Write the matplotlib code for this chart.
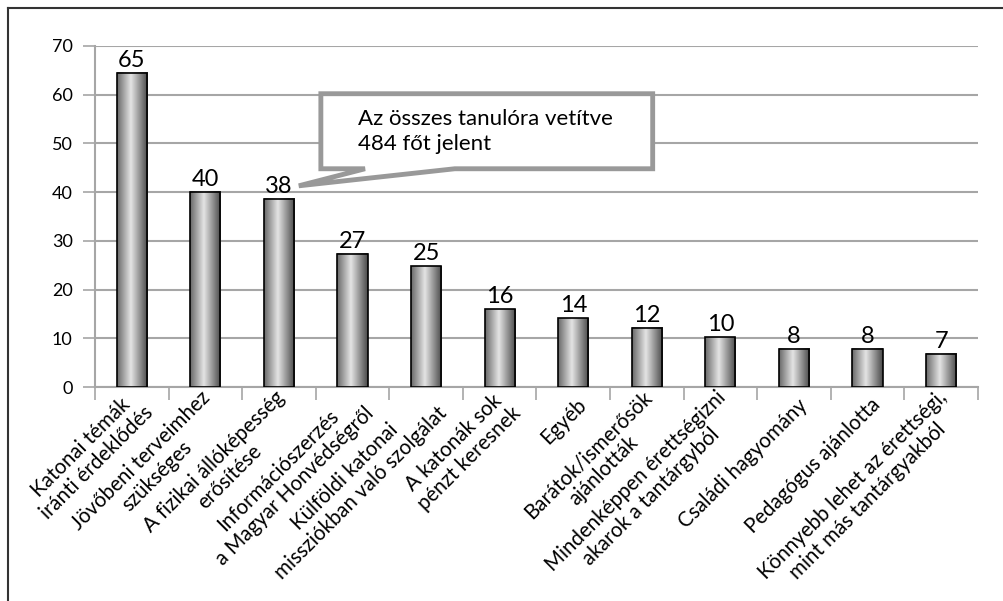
import matplotlib
matplotlib.use("Agg")
import matplotlib.pyplot as plt
import numpy as np
from matplotlib.colors import LinearSegmentedColormap
from matplotlib.patches import Polygon
from matplotlib.lines import Line2D
from matplotlib.transforms import ScaledTranslation

plt.rcParams['font.family'] = ['Lato', 'DejaVu Sans']

categories = [
    "Katonai témák\niránti érdeklődés",
    "Jövőbeni terveimhez\nszükséges",
    "A fizikai állóképesség\nerősítése",
    "Információszerzés\na Magyar Honvédségről",
    "Külföldi katonai\nmissziókban való szolgálat",
    "A katonák sok\npénzt keresnek",
    "Egyéb",
    "Barátok/ismerősök\najánlották",
    "Mindenképpen érettségizni\nakarok a tantárgyból",
    "Családi hagyomány",
    "Pedagógus ajánlotta",
    "Könnyebb lehet az érettségi,\nmint más tantárgyakból",
]
values = [64.5, 40.1, 38.6, 27.3, 24.8, 16.0, 14.1, 12.2, 10.2, 7.9, 7.9, 6.8]
value_labels = ["65", "40", "38", "27", "25", "16", "14", "12", "10", "8", "8", "7"]
yticks = [0, 10, 20, 30, 40, 50, 60, 70]
callout_text = "Az összes tanulóra vetítve\n484 főt jelent"

fig = plt.figure(figsize=(10.04, 6.01), dpi=100)
ax = fig.add_axes([0.0946, 0.356, 0.8794, 0.5675])

x = np.arange(len(categories))
bars = ax.bar(x, values, width=0.41, facecolor='none', edgecolor='black', linewidth=1.2, zorder=4)

cmap = LinearSegmentedColormap.from_list(
    "cyl", [(0.0, "#686868"), (0.45, "#e4e4e4"), (1.0, "#484848")])
grad = np.linspace(0, 1, 256).reshape(1, -1)
for b in bars:
    x0 = b.get_x()
    w = b.get_width()
    h = b.get_height()
    ax.imshow(grad, cmap=cmap, extent=[x0, x0 + w, 0, h], aspect='auto', zorder=3,
              interpolation='bilinear')

for xi, v, lab in zip(x, values, value_labels):
    ax.text(xi, v + 0.4, lab, ha='center', va='bottom', fontsize=17, color='black', zorder=5)

ax.set_xlim(-0.5, len(categories) - 0.5)
ax.set_ylim(0, 70)
ax.set_aspect('auto')

ax.set_yticks(yticks)
ax.set_yticklabels([str(t) for t in yticks], fontsize=13)
ax.yaxis.grid(True, color='#a6a6a6', linewidth=1.5, zorder=0)
ax.set_axisbelow(True)

ax.set_xticks(x)
ax.set_xticklabels(categories, rotation=45, ha='right', va='center', rotation_mode='anchor',
                   fontsize=14.8, multialignment='center', linespacing=1.15)
ax.tick_params(axis='x', which='major', length=0, pad=0)
offset = ScaledTranslation(10 / 100, -15 / 100, fig.dpi_scale_trans)
for lbl in ax.get_xticklabels():
    lbl.set_transform(lbl.get_transform() + offset)
ax.set_xticks(np.arange(-0.5, len(categories)), minor=True)
ax.tick_params(axis='x', which='minor', length=9, color='#a6a6a6', width=1.2)
ax.tick_params(axis='y', length=9, color='#a6a6a6', width=1.2, pad=7)

for s in ['top', 'right']:
    ax.spines[s].set_visible(False)
for s in ['left', 'bottom']:
    ax.spines[s].set_color('#a6a6a6')
    ax.spines[s].set_linewidth(1.5)

# callout
L, R, T, B = 2.57, 7.08, 60.2, 44.8
b1, b2 = 3.17, 4.39
tip = (2.27, 41.3)
poly = Polygon([(L, T), (R, T), (R, B), (b2, B), tip, (b1, B), (L, B)], closed=True,
               facecolor='white', edgecolor='#999999', linewidth=3.5, zorder=6,
               joinstyle='miter')
ax.add_patch(poly)
ax.text(L + 0.5, (T + B) / 2 - 0.1, callout_text, ha='left', va='center', fontsize=16,
        linespacing=1.3, zorder=7)

# partial frame
fig.add_artist(Line2D([0.0075, 0.0075], [0, 0.9875], color='#333333', linewidth=1.5))
fig.add_artist(Line2D([0.0075, 1.0], [0.9875, 0.9875], color='#333333', linewidth=1.5))

fig.savefig("out.png", dpi=100)
